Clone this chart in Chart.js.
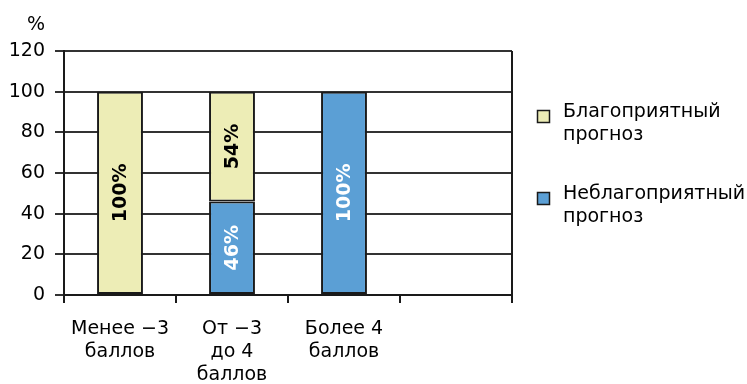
<!DOCTYPE html>
<html>
<head>
<meta charset="utf-8">
<script src="https://cdn.jsdelivr.net/npm/chart.js@4/dist/chart.umd.min.js"></script>
<style>
  html, body { margin: 0; padding: 0; background: #fff; }
  #wrap { position: relative; width: 747px; height: 384px; }
</style>
</head>
<body>
<div id="wrap"><canvas id="c" width="747" height="384"></canvas></div>
<script>
// Outcome groups by score change
const categories = [['Менее −3', 'баллов'], ['От −3', 'до 4', 'баллов'], ['Более 4', 'баллов'], ''];
// Share of patients, %
const favorable = [100, 54, 0, 0];
const unfavorable = [0, 46, 100, 0];
const yTicks = [0, 20, 40, 60, 80, 100, 120];
const favorableName = ['Благоприятный', 'прогноз'];
const unfavorableName = ['Неблагоприятный', 'прогноз'];
const unitLabel = '%';

const FONT = "'DejaVu Sans', sans-serif";
const INK = '#1a1a1a';
const GRID = '#333';
const TEXT = '#000';
const YELLOW = '#EDEDB6';
const BLUE = '#5B9FD5';

// Rotated percentage labels inside each bar segment
const barLabels = {
  id: 'barLabels',
  afterDatasetsDraw(chart) {
    const ctx = chart.ctx;
    chart.data.datasets.forEach((ds, di) => {
      const meta = chart.getDatasetMeta(di);
      meta.data.forEach((el, i) => {
        const v = ds.data[i];
        if (!v) return;
        const cy = (el.y + el.base) / 2;
        ctx.save();
        ctx.translate(el.x, cy);
        ctx.rotate(-Math.PI / 2);
        ctx.font = 'bold 19px ' + FONT;
        ctx.fillStyle = ds.labelColor;
        ctx.textAlign = 'center';
        ctx.textBaseline = 'middle';
        ctx.fillText(v + '%', 0, 1);
        ctx.restore();
      });
    });
  }
};

// Right frame edge, unit caption and two-line legend
const decorations = {
  id: 'decorations',
  afterDraw(chart) {
    const ctx = chart.ctx;
    const a = chart.chartArea;
    ctx.save();
    ctx.strokeStyle = INK;
    ctx.lineWidth = 2;
    ctx.beginPath();
    ctx.moveTo(a.right, a.top);
    ctx.lineTo(a.right, a.bottom);
    ctx.stroke();

    ctx.fillStyle = TEXT;
    ctx.font = '19px ' + FONT;
    ctx.textAlign = 'center';
    ctx.textBaseline = 'alphabetic';
    ctx.fillText(unitLabel, 36, 30);

    const entries = [
      { name: favorableName, color: YELLOW, box: 110 },
      { name: unfavorableName, color: BLUE, box: 192 }
    ];
    entries.forEach(e => {
      ctx.fillStyle = e.color;
      ctx.fillRect(537, e.box, 13, 13);
      ctx.strokeStyle = INK;
      ctx.lineWidth = 1.5;
      ctx.strokeRect(537.5, e.box + 0.5, 12, 12);
      ctx.fillStyle = TEXT;
      ctx.textAlign = 'left';
      ctx.font = '19px ' + FONT;
      e.name.forEach((line, k) => {
        ctx.fillText(line, 563, e.box + 7 + k * 23);
      });
    });
    ctx.restore();
  }
};

const edge = c => (c.raw ? 2 : 0);

new Chart(document.getElementById('c'), {
  type: 'bar',
  data: {
    labels: categories,
    datasets: [
      {
        label: unfavorableName.join(' '),
        data: unfavorable,
        backgroundColor: BLUE,
        borderColor: INK,
        borderWidth: edge,
        borderSkipped: false,
        labelColor: '#fff'
      },
      {
        label: favorableName.join(' '),
        data: favorable,
        backgroundColor: YELLOW,
        borderColor: INK,
        borderWidth: edge,
        borderSkipped: false,
        labelColor: TEXT
      }
    ]
  },
  options: {
    responsive: false,
    animation: false,
    barPercentage: 0.41,
    categoryPercentage: 1,
    layout: { padding: { top: 51, right: 235, left: 0, bottom: 0 } },
    plugins: {
      legend: { display: false },
      tooltip: { enabled: false }
    },
    scales: {
      x: {
        stacked: true,
        offset: true,
        afterFit(s) { s.height = 89; },
        grid: {
          offset: true,
          drawOnChartArea: false,
          drawTicks: true,
          tickLength: 8,
          color: INK,
          lineWidth: 2
        },
        border: { display: true, color: INK, width: 2 },
        ticks: {
          color: TEXT,
          font: { family: FONT, size: 19, lineHeight: 1.22 },
          padding: 14,
          maxRotation: 0,
          autoSkip: false
        }
      },
      y: {
        stacked: true,
        min: 0,
        max: 120,
        afterFit(s) { s.width = 64; },
        afterBuildTicks(s) { s.ticks = yTicks.map(v => ({ value: v })); },
        grid: { color: GRID, lineWidth: 2, tickLength: 9 },
        border: { display: true, color: INK, width: 2 },
        ticks: {
          color: TEXT,
          font: { family: FONT, size: 19 },
          padding: 10
        }
      }
    }
  },
  plugins: [barLabels, decorations]
});
</script>
</body>
</html>
